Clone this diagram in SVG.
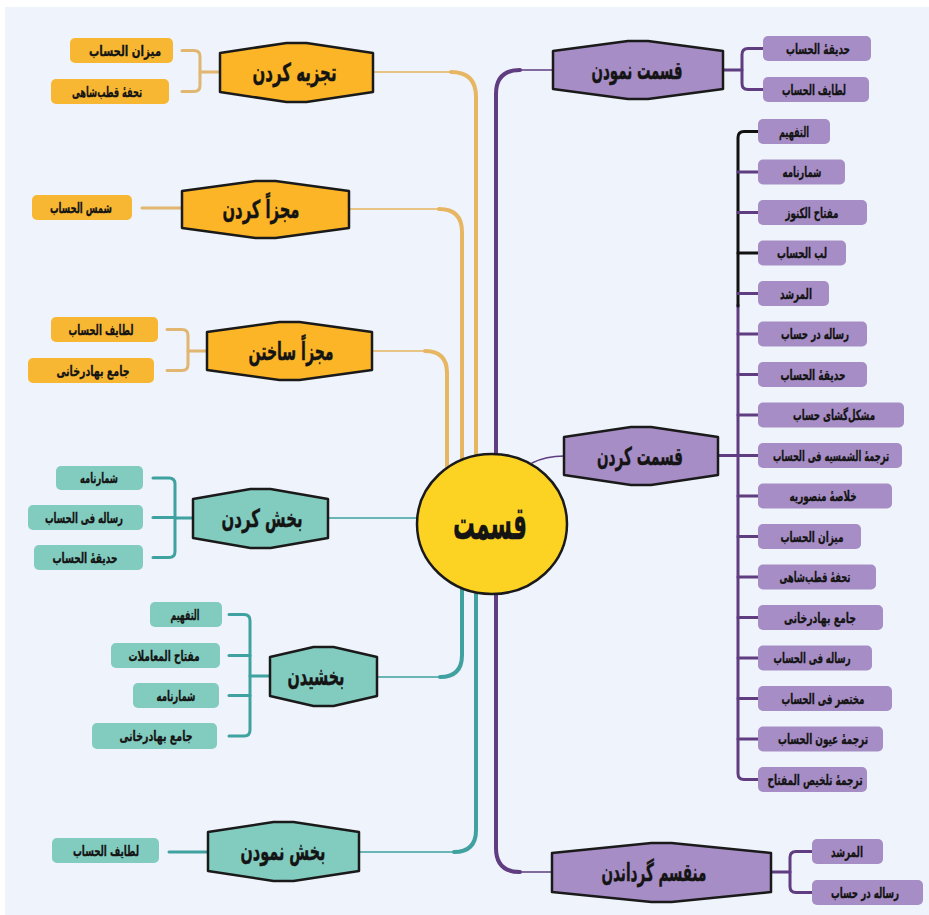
<svg xmlns="http://www.w3.org/2000/svg" width="929" height="915" viewBox="0 0 929 915">
  <style>
    text { font-family: "DejaVu Sans", "Noto Sans", sans-serif; font-weight: bold; fill: #141414; stroke: #141414; text-anchor: middle; }
    .title { font-size: 25px; stroke-width: 0.45; }
    .leaf-t { font-size: 14px; stroke-width: 0.3; }
    .big { font-size: 46px; stroke-width: 0.4; }
    .hex { stroke: #1a1a1a; stroke-width: 2.5; stroke-linejoin: round; }
    .hex-o { fill: #fbb526; }
    .hex-p { fill: #a68dc5; }
    .hex-t { fill: #82cbbf; }
    .leaf-o { fill: #f8b733; }
    .leaf-p { fill: #a68dc5; }
    .leaf-t-box { fill: #82cbbf; }
    .c { fill: none; stroke-linecap: round; stroke-linejoin: round; }
    .or { stroke: #e6b662; }
    .orb { stroke: #e0b670; stroke-width: 3; }
    .pu { stroke: #5f3d80; }
    .pub { stroke: #5f3d80; stroke-width: 3; }
    .bk { stroke: #111; stroke-width: 3; }
    .te { stroke: #3fa1a0; }
    .teb { stroke: #3fa1a0; stroke-width: 3; }
    .thick { stroke-width: 4; }
    .thin { stroke-width: 1.5; }
  </style>

  <!-- page -->
  <rect x="0" y="0" width="929" height="915" fill="#ffffff"/>
  <rect x="5" y="7" width="924" height="908" fill="#eff3fb"/>

  <!-- connectors -->
  <g id="connectors">
    <!-- orange trunks (upper left) -->
    <path class="c or thick" d="M476 500 V97 Q476 72 451 72"/>
    <path class="c or thin" d="M452 72 H373"/>
    <path class="c or thick" d="M462 500 V232 Q462 209 439 209"/>
    <path class="c or thin" d="M440 209 H349"/>
    <path class="c or thick" d="M447 500 V373 Q447 351 425 351"/>
    <path class="c or thin" d="M426 351 H372"/>

    <!-- purple trunks (right) -->
    <path class="c pu thick" d="M496 500 V94 Q496 70 520 70"/>
    <path class="c pu thin" d="M519 70 H553"/>
    <path class="c pu thick" d="M496 540 V848 Q496 872 520 872"/>
    <path class="c pu thin" d="M519 872 H552"/>
    <path class="c pu thin" d="M532 463 Q546 456 564 456"/>

    <!-- teal trunks (lower left) -->
    <path class="c te thin" d="M440 518 H328"/>
    <path class="c te thick" d="M462 540 V655 Q462 677 440 677"/>
    <path class="c te thin" d="M441 677 H377"/>
    <path class="c te thick" d="M476 540 V830 Q476 852 454 852"/>
    <path class="c te thin" d="M455 852 H359"/>

    <!-- brackets: orange -->
    <path class="c orb" d="M220 72 H200"/>
    <path class="c orb" d="M182 50.5 H194 Q200 50.5 200 56.5 V85.5 Q200 91.5 194 91.5 H182"/>
    <path class="c orb" d="M182 208 H142"/>
    <path class="c orb" d="M207 351 H188"/>
    <path class="c orb" d="M167 329.5 H182 Q188 329.5 188 335.5 V364.5 Q188 370.5 182 370.5 H167"/>

    <!-- brackets: teal -->
    <path class="c teb" d="M193 518 H175"/>
    <path class="c teb" d="M153 478 H169 Q175 478 175 484 V551.5 Q175 557.5 169 557.5 H153"/>
    <path class="c teb" d="M153 517.5 H175"/>
    <path class="c teb" d="M270 676 H250"/>
    <path class="c teb" d="M229 614.5 H244 Q250 614.5 250 620.5 V730 Q250 736 244 736 H229"/>
    <path class="c teb" d="M229 655.5 H250"/>
    <path class="c teb" d="M229 695.5 H250"/>
    <path class="c teb" d="M208 852 H169"/>

    <!-- brackets: purple -->
    <path class="c pub" d="M723 70 H742"/>
    <path class="c pub" d="M763 48.5 H748 Q742 48.5 742 54.5 V83.5 Q742 89.5 748 89.5 H763"/>
    <path class="c pub" d="M771 872 H790"/>
    <path class="c pub" d="M812 851.5 H796 Q790 851.5 790 857.5 V886.5 Q790 892.5 796 892.5 H812"/>

    <!-- long purple list bracket -->
    <path class="c pub" d="M718 455.5 H758"/>
    <path class="c pub" d="M738 305 V773.5 Q738 779.5 744 779.5 H758"/>
    <path class="c bk" d="M758 131.5 H744 Q738 131.5 738 137.5 V306"/>
    <path class="c pub" d="M738 172 H758 M738 212.5 H758 M738 293.5 H758 M738 334 H758 M738 374.5 H758 M738 415 H758 M738 496 H758 M738 536.5 H758 M738 577 H758 M738 617.5 H758 M738 658 H758 M738 698.5 H758 M738 739 H758"/>
    <path class="c bk" d="M738 253 H758"/>
  </g>

  <!-- centre -->
  <g id="center">
    <ellipse cx="492" cy="524" rx="75" ry="70" fill="#fdd323" stroke="#1a1a1a" stroke-width="2.5"/>
    <text class="big" x="490" y="539" textLength="74" lengthAdjust="spacingAndGlyphs">قسمت</text>
  </g>

  <!-- orange branch nodes -->
  <g id="tajzie">
    <polygon class="hex hex-o" points="220,53 286.5,43 306.5,43 373,53 373,92 306.5,102 286.5,102 220,92"/>
    <text class="title" x="294.5" y="81" textLength="84" lengthAdjust="spacingAndGlyphs">تجزیه کردن</text>
  </g>
  <g id="mojazza-kardan">
    <polygon class="hex hex-o" points="182,191 255.5,181 275.5,181 349,191 349,228 275.5,238 255.5,238 182,228"/>
    <text class="title" x="261" y="218" textLength="77" lengthAdjust="spacingAndGlyphs">مجزاً کردن</text>
  </g>
  <g id="mojazza-sakhtan">
    <polygon class="hex hex-o" points="207,332 279.5,322 299.5,322 372,332 372,370 299.5,380 279.5,380 207,370"/>
    <text class="title" x="291" y="360" textLength="85" lengthAdjust="spacingAndGlyphs">مجزاً ساختن</text>
  </g>

  <!-- teal branch nodes -->
  <g id="bakhsh-kardan">
    <polygon class="hex hex-t" points="193,499 250.5,489 270.5,489 328,499 328,538 270.5,548 250.5,548 193,538"/>
    <text class="title" x="262" y="527" textLength="81" lengthAdjust="spacingAndGlyphs">بخش کردن</text>
  </g>
  <g id="bakhshidan">
    <polygon class="hex hex-t" points="270,657 313.5,647 333.5,647 377,657 377,696 333.5,706 313.5,706 270,696"/>
    <text class="title" x="316" y="685" textLength="57" lengthAdjust="spacingAndGlyphs">بخشیدن</text>
  </g>
  <g id="bakhsh-nemudan">
    <polygon class="hex hex-t" points="208,832 273.5,822 293.5,822 359,832 359,871 293.5,881 273.5,881 208,871"/>
    <text class="title" x="283" y="860" textLength="85" lengthAdjust="spacingAndGlyphs">بخش نمودن</text>
  </g>

  <!-- purple branch nodes -->
  <g id="ghesmat-nemudan">
    <polygon class="hex hex-p" points="553,51 628,41 648,41 723,51 723,89 648,99 628,99 553,89"/>
    <text class="title" x="637" y="79" textLength="91" lengthAdjust="spacingAndGlyphs">قسمت نمودن</text>
  </g>
  <g id="ghesmat-kardan">
    <polygon class="hex hex-p" points="564,437 631,427 651,427 718,437 718,475 651,485 631,485 564,475"/>
    <text class="title" x="640" y="465" textLength="86" lengthAdjust="spacingAndGlyphs">قسمت کردن</text>
  </g>
  <g id="monghasem">
    <polygon class="hex hex-p" points="552,853 651.5,843 671.5,843 771,853 771,892 671.5,902 651.5,902 552,892"/>
    <text class="title" x="654" y="881" textLength="105" lengthAdjust="spacingAndGlyphs">منقسم گرداندن</text>
  </g>

  <!-- orange leaves -->
  <g id="o1"><rect class="leaf-o" x="70" y="38" width="103" height="25" rx="5"/><text class="leaf-t" x="125" y="55.5" textLength="72" lengthAdjust="spacingAndGlyphs">میزان الحساب</text></g>
  <g id="o2"><rect class="leaf-o" x="51" y="79" width="118" height="25" rx="5"/><text class="leaf-t" x="107" y="96.5" textLength="70" lengthAdjust="spacingAndGlyphs">تحفهٔ قطب‌شاهی</text></g>
  <g id="o3"><rect class="leaf-o" x="32" y="195" width="100" height="25" rx="5"/><text class="leaf-t" x="81" y="212.5" textLength="62" lengthAdjust="spacingAndGlyphs">شمس الحساب</text></g>
  <g id="o4"><rect class="leaf-o" x="51" y="317" width="107" height="25" rx="5"/><text class="leaf-t" x="101" y="334.5" textLength="65" lengthAdjust="spacingAndGlyphs">لطایف الحساب</text></g>
  <g id="o5"><rect class="leaf-o" x="28" y="358" width="126" height="25" rx="5"/><text class="leaf-t" x="93" y="375.5" textLength="73" lengthAdjust="spacingAndGlyphs">جامع بهادرخانی</text></g>

  <!-- teal leaves -->
  <g id="t1"><rect class="leaf-t-box" x="56" y="466" width="87" height="24" rx="5"/><text class="leaf-t" x="99" y="483" textLength="38" lengthAdjust="spacingAndGlyphs">شمارنامه</text></g>
  <g id="t2"><rect class="leaf-t-box" x="28" y="505" width="115" height="25" rx="5"/><text class="leaf-t" x="84" y="522.5" textLength="78" lengthAdjust="spacingAndGlyphs">رساله فی الحساب</text></g>
  <g id="t3"><rect class="leaf-t-box" x="34" y="545" width="109" height="25" rx="5"/><text class="leaf-t" x="85" y="562.5" textLength="65" lengthAdjust="spacingAndGlyphs">حدیقهٔ الحساب</text></g>
  <g id="t4"><rect class="leaf-t-box" x="150" y="602" width="72" height="25" rx="5"/><text class="leaf-t" x="185" y="619.5" textLength="29" lengthAdjust="spacingAndGlyphs">التفهیم</text></g>
  <g id="t5"><rect class="leaf-t-box" x="111" y="643" width="109" height="25" rx="5"/><text class="leaf-t" x="164" y="660.5" textLength="71" lengthAdjust="spacingAndGlyphs">مفتاح المعاملات</text></g>
  <g id="t6"><rect class="leaf-t-box" x="133" y="683" width="86" height="25" rx="5"/><text class="leaf-t" x="176" y="700.5" textLength="39" lengthAdjust="spacingAndGlyphs">شمارنامه</text></g>
  <g id="t7"><rect class="leaf-t-box" x="92" y="723" width="125" height="26" rx="5"/><text class="leaf-t" x="156" y="741" textLength="73" lengthAdjust="spacingAndGlyphs">جامع بهادرخانی</text></g>
  <g id="t8"><rect class="leaf-t-box" x="52" y="838" width="107" height="25" rx="5"/><text class="leaf-t" x="106" y="855.5" textLength="66" lengthAdjust="spacingAndGlyphs">لطایف الحساب</text></g>

  <!-- purple leaves: قسمت نمودن -->
  <g id="p1"><rect class="leaf-p" x="763" y="36" width="108" height="25" rx="5"/><text class="leaf-t" x="818" y="53.5" textLength="64" lengthAdjust="spacingAndGlyphs">حدیقهٔ الحساب</text></g>
  <g id="p2"><rect class="leaf-p" x="763" y="77" width="106" height="25" rx="5"/><text class="leaf-t" x="814" y="94.5" textLength="64" lengthAdjust="spacingAndGlyphs">لطایف الحساب</text></g>

  <!-- purple leaves: قسمت کردن -->
  <g id="k1"><rect class="leaf-p" x="758" y="119" width="72" height="25" rx="5"/><text class="leaf-t" x="794" y="136.5" textLength="30" lengthAdjust="spacingAndGlyphs">التفهیم</text></g>
  <g id="k2"><rect class="leaf-p" x="758" y="159.5" width="87" height="25" rx="5"/><text class="leaf-t" x="802" y="177" textLength="39" lengthAdjust="spacingAndGlyphs">شمارنامه</text></g>
  <g id="k3"><rect class="leaf-p" x="758" y="200" width="109" height="25" rx="5"/><text class="leaf-t" x="812" y="217.5" textLength="53" lengthAdjust="spacingAndGlyphs">مفتاح الکنوز</text></g>
  <g id="k4"><rect class="leaf-p" x="758" y="240.5" width="88" height="25" rx="5"/><text class="leaf-t" x="802" y="258" textLength="50" lengthAdjust="spacingAndGlyphs">لب الحساب</text></g>
  <g id="k5"><rect class="leaf-p" x="758" y="281" width="71" height="25" rx="5"/><text class="leaf-t" x="796" y="298.5" textLength="32" lengthAdjust="spacingAndGlyphs">المرشد</text></g>
  <g id="k6"><rect class="leaf-p" x="758" y="321.5" width="109" height="25" rx="5"/><text class="leaf-t" x="815" y="339" textLength="68" lengthAdjust="spacingAndGlyphs">رساله در حساب</text></g>
  <g id="k7"><rect class="leaf-p" x="758" y="362" width="109" height="25" rx="5"/><text class="leaf-t" x="813" y="379.5" textLength="65" lengthAdjust="spacingAndGlyphs">حدیقهٔ الحساب</text></g>
  <g id="k8"><rect class="leaf-p" x="758" y="402.5" width="146" height="25" rx="5"/><text class="leaf-t" x="834" y="420" textLength="82" lengthAdjust="spacingAndGlyphs">مشکل‌گشای حساب</text></g>
  <g id="k9"><rect class="leaf-p" x="758" y="443" width="144" height="25" rx="5"/><text class="leaf-t" x="831" y="460.5" textLength="116" lengthAdjust="spacingAndGlyphs">ترجمهٔ الشمسیه فی الحساب</text></g>
  <g id="k10"><rect class="leaf-p" x="758" y="483.5" width="134" height="25" rx="5"/><text class="leaf-t" x="823" y="501" textLength="67" lengthAdjust="spacingAndGlyphs">خلاصهٔ منصوریه</text></g>
  <g id="k11"><rect class="leaf-p" x="758" y="524" width="103" height="25" rx="5"/><text class="leaf-t" x="812" y="541.5" textLength="63" lengthAdjust="spacingAndGlyphs">میزان الحساب</text></g>
  <g id="k12"><rect class="leaf-p" x="758" y="564.5" width="118" height="25" rx="5"/><text class="leaf-t" x="815" y="582" textLength="71" lengthAdjust="spacingAndGlyphs">تحفهٔ قطب‌شاهی</text></g>
  <g id="k13"><rect class="leaf-p" x="758" y="605" width="125" height="25" rx="5"/><text class="leaf-t" x="820" y="622.5" textLength="72" lengthAdjust="spacingAndGlyphs">جامع بهادرخانی</text></g>
  <g id="k14"><rect class="leaf-p" x="758" y="645.5" width="114" height="25" rx="5"/><text class="leaf-t" x="812" y="663" textLength="77" lengthAdjust="spacingAndGlyphs">رساله فی الحساب</text></g>
  <g id="k15"><rect class="leaf-p" x="758" y="686" width="134" height="25" rx="5"/><text class="leaf-t" x="823" y="703.5" textLength="83" lengthAdjust="spacingAndGlyphs">مختصر فی الحساب</text></g>
  <g id="k16"><rect class="leaf-p" x="758" y="726.5" width="125" height="25" rx="5"/><text class="leaf-t" x="823" y="744" textLength="90" lengthAdjust="spacingAndGlyphs">ترجمهٔ عیون الحساب</text></g>
  <g id="k17"><rect class="leaf-p" x="758" y="767" width="109" height="25" rx="5"/><text class="leaf-t" x="815" y="784.5" textLength="95" lengthAdjust="spacingAndGlyphs">ترجمهٔ تلخیص المفتاح</text></g>

  <!-- purple leaves: منقسم گرداندن -->
  <g id="m1"><rect class="leaf-p" x="812" y="839" width="71" height="25" rx="5"/><text class="leaf-t" x="847" y="856.5" textLength="32" lengthAdjust="spacingAndGlyphs">المرشد</text></g>
  <g id="m2"><rect class="leaf-p" x="812" y="880" width="111" height="25" rx="5"/><text class="leaf-t" x="865" y="897.5" textLength="68" lengthAdjust="spacingAndGlyphs">رساله در حساب</text></g>
</svg>
